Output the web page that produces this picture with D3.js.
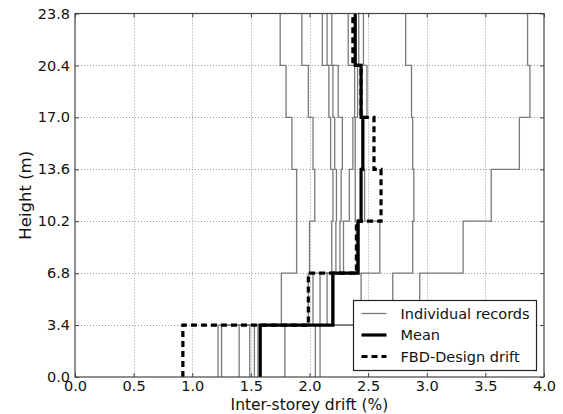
<!DOCTYPE html>
<html>
<head>
<meta charset="utf-8">
<script src="https://cdn.jsdelivr.net/npm/d3@7"></script>
<style>
  html, body { margin: 0; padding: 0; background: #fff; }
  svg { display: block; font-family: "DejaVu Sans", sans-serif; }
</style>
</head>
<body>
<svg id="chart" width="563" height="414"></svg>
<script>
// ---- data -------------------------------------------------------------
// storey boundaries (m)
const storeyHeights = [0, 3.4, 6.8, 10.2, 13.6, 17.0, 20.4, 23.8];
const xTicks = [0, 0.5, 1.0, 1.5, 2.0, 2.5, 3.0, 3.5, 4.0];

// drift per storey (bottom -> top), one list per ground motion record
const record01 = [1.22, 1.76, 1.89, 1.89, 1.85, 1.80, 1.75];
const record02 = [1.25, 1.99, 2.00, 2.045, 2.03, 1.99, 1.935];
const record03 = [1.40, 2.03, 2.19, 2.20, 2.18, 2.165, 2.11];
const record04 = [1.49, 2.09, 2.225, 2.23, 2.215, 2.20, 2.15];
const record05 = [1.53, 2.15, 2.26, 2.27, 2.28, 2.245, 2.19];
const record06 = [1.56, 2.19, 2.29, 2.34, 2.37, 2.385, 2.33];
const record07 = [1.58, 2.20, 2.40, 2.39, 2.39, 2.41, 2.42];
const record08 = [1.79, 2.44, 2.60, 2.47, 2.46, 2.49, 2.46];
const record09 = [2.05, 2.71, 2.88, 2.89, 2.88, 2.87, 2.82];
const record10 = [2.09, 2.94, 3.31, 3.55, 3.79, 3.88, 3.86];
const records = [record01, record02, record03, record04, record05,
                 record06, record07, record08, record09, record10];

const meanDrift = [1.58, 2.20, 2.415, 2.44, 2.455, 2.44, 2.39];
const fbdDrift  = [0.92, 1.99, 2.40, 2.61, 2.55, 2.44, 2.37];

const legendLabels = ["Individual records", "Mean", "FBD-Design drift"];

// ---- layout -------------------------------------------------------------
const width = 563, height = 414;
const margin = {top: 13.5, right: 19, bottom: 37, left: 75};

const svg = d3.select("#chart");

const x = d3.scaleLinear().domain([0, 4]).range([margin.left, width - margin.right]);
const y = d3.scaleLinear().domain([0, 23.8]).range([height - margin.bottom, margin.top]);

// turn storey values into a step outline
function stepPoints(vals) {
  const pts = [];
  vals.forEach((v, i) => {
    pts.push([v, storeyHeights[i]]);
    pts.push([v, storeyHeights[i + 1]]);
  });
  return pts;
}
const line = d3.line().x(d => x(d[0])).y(d => y(d[1]));

// grid
const grid = svg.append("g").attr("stroke", "#999").attr("stroke-width", 1)
  .attr("stroke-dasharray", "1,2");
grid.selectAll(".gx").data(xTicks.slice(1, -1)).join("line")
  .attr("x1", d => Math.round(x(d)) + 0.5).attr("x2", d => Math.round(x(d)) + 0.5)
  .attr("y1", y(23.8)).attr("y2", y(0));
grid.selectAll(".gy").data(storeyHeights.slice(1, -1)).join("line")
  .attr("y1", d => Math.round(y(d)) + 0.5).attr("y2", d => Math.round(y(d)) + 0.5)
  .attr("x1", x(0)).attr("x2", x(4));

// records
svg.append("g").selectAll("path").data(records).join("path")
  .attr("d", d => line(stepPoints(d)))
  .attr("fill", "none").attr("stroke", "#7a7a7a").attr("stroke-width", 1.3);

svg.append("path").attr("d", line(stepPoints(meanDrift)))
  .attr("fill", "none").attr("stroke", "#000").attr("stroke-width", 3.2);

svg.append("path").attr("d", line(stepPoints(fbdDrift)))
  .attr("fill", "none").attr("stroke", "#000").attr("stroke-width", 3.2)
  .attr("stroke-dasharray", "6,4");

// frame
svg.append("rect")
  .attr("x", x(0)).attr("y", y(23.8))
  .attr("width", x(4) - x(0)).attr("height", y(0) - y(23.8))
  .attr("fill", "none").attr("stroke", "#444").attr("stroke-width", 1.2);

// axes (ticks pointing inwards, mirrored on the opposite side)
svg.append("g").attr("transform", `translate(0,${y(0)})`)
  .call(d3.axisBottom(x).tickValues(xTicks).tickFormat(d3.format(".1f"))
    .tickSizeInner(-4).tickSizeOuter(0).tickPadding(4));
svg.append("g").attr("transform", `translate(${x(0)},0)`)
  .call(d3.axisLeft(y).tickValues(storeyHeights).tickFormat(d3.format(".1f"))
    .tickSizeInner(-4).tickSizeOuter(0).tickPadding(5));
svg.append("g").attr("transform", `translate(0,${y(23.8)})`)
  .call(d3.axisTop(x).tickValues(xTicks).tickFormat("").tickSizeInner(-4).tickSizeOuter(0));
svg.append("g").attr("transform", `translate(${x(4)},0)`)
  .call(d3.axisRight(y).tickValues(storeyHeights).tickFormat("").tickSizeInner(-4).tickSizeOuter(0));

svg.selectAll(".domain").remove();
svg.selectAll(".tick line").attr("stroke", "#444");
svg.selectAll(".tick text").attr("font-size", 14.5).attr("fill", "#111")
  .attr("font-family", "DejaVu Sans, sans-serif");

// axis titles
svg.append("text")
  .attr("x", (x(0) + x(4)) / 2).attr("y", 410)
  .attr("text-anchor", "middle").attr("font-size", 15.5).attr("fill", "#111")
  .text("Inter-storey drift (%)");
svg.append("text")
  .attr("transform", `translate(31,${(y(0) + y(23.8)) / 2}) rotate(-90)`)
  .attr("text-anchor", "middle").attr("font-size", 16.5).attr("fill", "#111")
  .text("Height (m)");

// legend
const lg = svg.append("g").attr("transform", "translate(353.5,300.5)");
lg.append("rect").attr("width", 183).attr("height", 70)
  .attr("fill", "#fff").attr("stroke", "#222").attr("stroke-width", 1.2);
const rows = lg.selectAll("g").data(legendLabels).join("g")
  .attr("transform", (d, i) => `translate(0,${13 + i * 21.5})`);
rows.append("line").attr("x1", 8).attr("x2", 33)
  .attr("stroke", (d, i) => i === 0 ? "#7a7a7a" : "#000")
  .attr("stroke-width", (d, i) => i === 0 ? 1.3 : 3.2)
  .attr("stroke-dasharray", (d, i) => i === 2 ? "6,4" : null);
rows.append("text").attr("x", 47).attr("y", 5)
  .attr("font-size", 14.5).attr("fill", "#111").text(d => d);
</script>
</body>
</html>
